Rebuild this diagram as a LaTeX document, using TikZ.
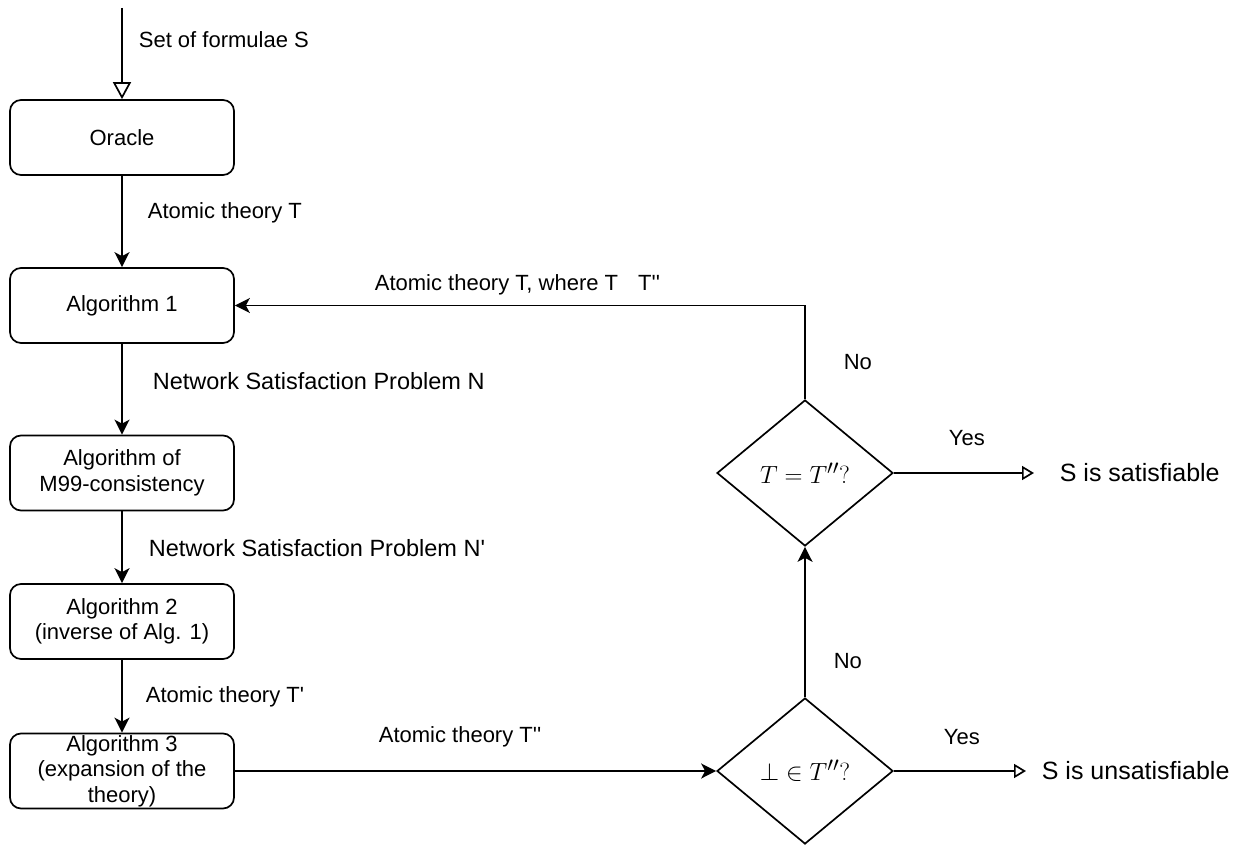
\documentclass[tikz,border=0pt]{standalone}
\usepackage{fontspec}
\newfontfamily\helv{Liberation Sans}
\usetikzlibrary{arrows.meta,shapes.geometric}

\begin{document}
\begin{tikzpicture}[x=1pt,y=-1pt,
  line width=1.7pt,
  every node/.style={inner sep=0pt, font=\helv\fontsize{22}{25.5}\selectfont},
  stepbox/.style={draw, rectangle, rounded corners=11pt, minimum width=224pt,
    minimum height=75pt, align=center},
  decision/.style={draw, diamond, minimum width=176pt, minimum height=146pt,
    font=\fontsize{28}{30}\selectfont},
  lbl/.style={anchor=west},
  wide/.style={lbl, font=\helv\fontsize{23.5}{26}\selectfont},
  result/.style={lbl, font=\helv\fontsize{25}{28}\selectfont},
  flow/.style={-{Stealth[length=15pt,width=15pt,inset=4pt]}},
  outflow/.style={-{Triangle[length=12pt,width=14pt,fill=white]}},
  inflow/.style={-{Triangle[length=17pt,width=18pt,fill=white]}}]
\useasboundingbox (0,0) rectangle (1251,845);

% processing chain
\node[stepbox] (oracle) at (122,137.5) {Oracle};
\node[stepbox] (alg1)   at (122,305.5) {Algorithm 1};
\node[stepbox] (m99)    at (122,473)   {Algorithm of\\M99-consistency};
\node[stepbox] (alg2)   at (122,621.5) {Algorithm 2\\(inverse of Alg. 1)};
\node[stepbox] (alg3)   at (122,771)   {Algorithm 3\\(expansion of the\\theory)};

% decisions
\node[decision] (eq)  at (805,473) {$T = T''?$};
\node[decision] (bot) at (805,771) {$\bot \in T''?$};

% free ends
\coordinate (in)    at (122,8);
\coordinate (sat)   at (1034,473);
\coordinate (unsat) at (1026,771);

% connectors
\draw[inflow] (in) -- (oracle.north);
\draw[flow] (oracle.south) -- (alg1.north);
\draw[flow] (alg1.south) -- (m99.north);
\draw[flow] (m99.south) -- (alg2.north);
\draw[flow] (alg2.south) -- (alg3.north);
\draw[flow] (alg3.east) -- (bot.west);
\draw[flow] (bot.north) -- (eq.south);
\draw[flow] (eq.north) |- (alg1.east);
\draw[outflow] (eq.east) -- (sat);
\draw[outflow] (bot.east) -- (unsat);

% connector labels
\node[lbl] (l0) at (138,40)  {Set of formulae S};
\node[lbl] (l1) at (147,213) {Atomic theory T};
\node[wide] (l2) at (152,381) {Network Satisfaction Problem N};
\node[wide] (l3) at (148,548) {Network Satisfaction Problem N'};
\node[lbl] (l4) at (145,697) {Atomic theory T'};
\node[lbl] (l5) at (378,737) {Atomic theory T''};
\node[lbl] (l6) at (374,285) {Atomic theory T, where T\hspace{20pt}T''};
\node[lbl] (n1) at (843,362) {No};
\node[lbl] (y1) at (948,438) {Yes};
\node[lbl] (n2) at (833,661) {No};
\node[lbl] (y2) at (943,737) {Yes};
\node[result] (r1) at (1059,473) {S is satisfiable};
\node[result] (r2) at (1041,771) {S is unsatisfiable};
\end{tikzpicture}
\end{document}
